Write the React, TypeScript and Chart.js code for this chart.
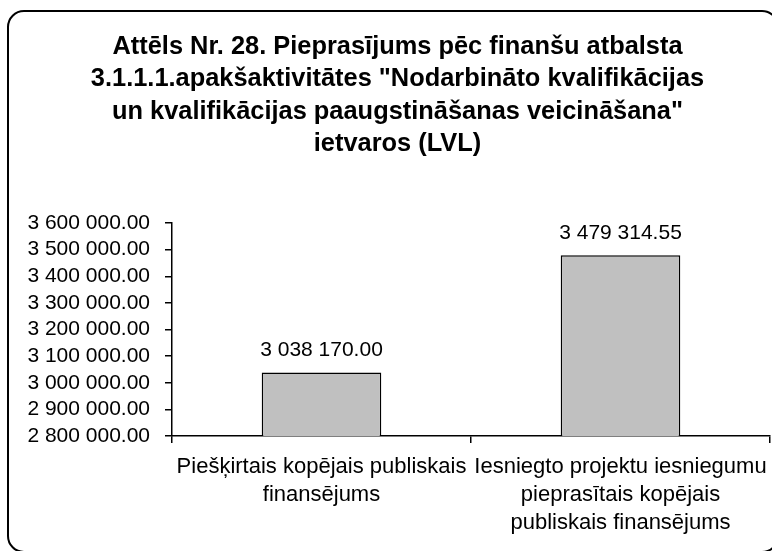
import React, { useEffect, useRef } from "react";
import { Chart, registerables } from "chart.js";

Chart.register(...registerables);

const categories: string[][] = [
  ["Piešķirtais kopējais publiskais", "finansējums"],
  ["Iesniegto projektu iesniegumu", "pieprasītais kopējais", "publiskais finansējums"],
];
const values: number[] = [3038170.0, 3479314.55];
const titleLines: string[] = [
  "Attēls Nr. 28. Pieprasījums pēc finanšu atbalsta",
  "3.1.1.1.apakšaktivitātes \"Nodarbināto kvalifikācijas",
  "un kvalifikācijas paaugstināšanas veicināšana\"",
  "ietvaros (LVL)",
];
const yMin = 2800000;
const yMax = 3600000;
const yStep = 100000;

const FONT = "'Liberation Sans', Arial, sans-serif";

function fmt(n: number): string {
  const [i, d] = Number(n).toFixed(2).split(".");
  return i.replace(/\B(?=(\d{3})+(?!\d))/g, " ") + "." + d;
}

const framePlugin = {
  id: "frame",
  beforeDraw(chart: any) {
    const ctx = chart.ctx;
    ctx.save();
    ctx.fillStyle = "#fff";
    ctx.fillRect(0, 0, chart.width, chart.height);
    const x = 8, y = 11, w = 770, h = 541, r = 16;
    ctx.beginPath();
    ctx.moveTo(x + r, y);
    ctx.lineTo(x + w - r, y);
    ctx.arcTo(x + w, y, x + w, y + r, r);
    ctx.lineTo(x + w, y + h - r);
    ctx.arcTo(x + w, y + h, x + w - r, y + h, r);
    ctx.lineTo(x + r, y + h);
    ctx.arcTo(x, y + h, x, y + h - r, r);
    ctx.lineTo(x, y + r);
    ctx.arcTo(x, y, x + r, y, r);
    ctx.closePath();
    ctx.lineWidth = 2;
    ctx.strokeStyle = "#000";
    ctx.stroke();
    ctx.restore();
  },
};

const valueLabelPlugin = {
  id: "valueLabels",
  afterDatasetsDraw(chart: any) {
    const ctx = chart.ctx;
    const meta = chart.getDatasetMeta(0);
    const data = chart.data.datasets[0].data;
    ctx.save();
    ctx.font = `21px ${FONT}`;
    ctx.fillStyle = "#000";
    ctx.textAlign = "center";
    ctx.textBaseline = "middle";
    meta.data.forEach((el: any, i: number) => {
      ctx.fillText(fmt(data[i]), el.x, el.y - 22);
    });
    ctx.restore();
  },
};

export default function App() {
  const ref = useRef<HTMLCanvasElement | null>(null);
  useEffect(() => {
    if (!ref.current) return;
    const chart = new Chart(ref.current, {
      type: "bar",
      data: {
        labels: categories,
        datasets: [
          {
            data: values,
            backgroundColor: "#C0C0C0",
            borderColor: "#000",
            borderWidth: 1.5,
            barPercentage: 0.4,
            categoryPercentage: 1,
          },
        ],
      },
      options: {
        responsive: false,
        animation: false,
        layout: { padding: { left: 25, right: 2, top: 0, bottom: 0 } },
        plugins: {
          legend: { display: false },
          tooltip: { enabled: false },
          title: {
            display: true,
            text: titleLines,
            color: "#000",
            font: { family: FONT, size: 25.4, weight: "bold", lineHeight: 1.27 },
            padding: { top: 31, bottom: 63 },
          },
        },
        scales: {
          x: {
            grid: { display: true, drawOnChartArea: false, tickLength: 7, color: "#000", lineWidth: 1.5, offset: true },
            border: { color: "#000", width: 1.5 },
            ticks: {
              color: "#000",
              font: { family: FONT, size: 22, lineHeight: 1.27 },
              padding: 10,
              maxRotation: 0,
              autoSkip: false,
            },
            afterFit: (s: any) => {
              s.height = 115;
              s.paddingLeft = 0;
              s.paddingRight = 0;
            },
          },
          y: {
            min: yMin,
            max: yMax,
            grid: { display: true, drawOnChartArea: false, tickLength: 7, color: "#000", lineWidth: 1.5 },
            border: { color: "#000", width: 1.5 },
            ticks: {
              stepSize: yStep,
              autoSkip: false,
              color: "#000",
              font: { family: FONT, size: 21 },
              padding: 15,
              callback: (v: any) => fmt(Number(v)),
            },
            afterFit: (s: any) => { s.width = 147; },
          },
        },
      },
      plugins: [framePlugin, valueLabelPlugin],
    });
    return () => chart.destroy();
  }, []);
  return (
    <div style={{ position: "absolute", left: 0, top: 0, width: 772, height: 551, overflow: "hidden" }}>
      <canvas ref={ref} width={772} height={551} style={{ display: "block" }} />
    </div>
  );
}
